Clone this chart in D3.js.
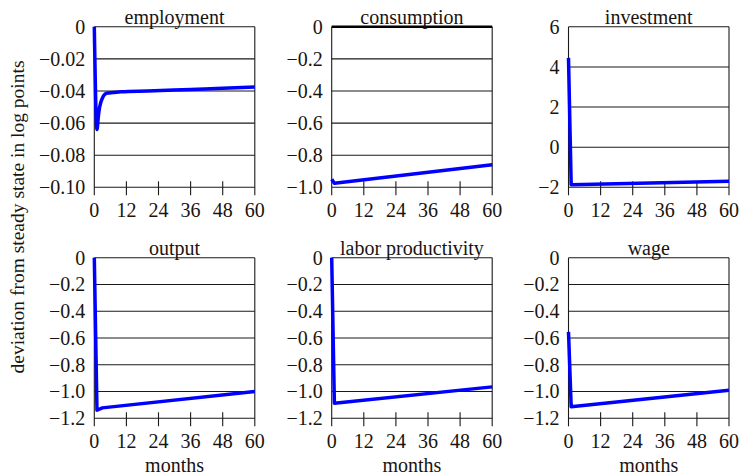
<!DOCTYPE html>
<html>
<head>
<meta charset="utf-8">
<script src="https://cdn.jsdelivr.net/npm/d3@7"></script>
<style>
  html, body { margin: 0; padding: 0; background: #fff; }
  svg { display: block; }
</style>
</head>
<body>
<svg id="chart" width="741" height="475"></svg>
<script>
// ---------------- DATA ----------------
const titles = ["employment", "consumption", "investment", "output", "labor productivity", "wage"];
const xTicks = [0, 12, 24, 36, 48, 60];
const xLabel = "months";
const yLabel = "deviation from steady state in log points";

const employmentMonths = [0, 1, 1.5, 2, 3, 4, 5, 7, 10, 20, 36, 48, 60];
const employmentValues = [0, -0.064, -0.056, -0.050, -0.0445, -0.042, -0.0413, -0.041, -0.0405, -0.0400, -0.0390, -0.0383, -0.0375];

const consumptionMonths = [0, 1, 60];
const consumptionValues = [-0.95, -0.975, -0.86];

const investmentMonths = [0, 1, 60];
const investmentValues = [4.45, -1.87, -1.70];

const outputMonths = [0, 1, 3, 60];
const outputValues = [0, -1.14, -1.122, -1.0];

const productivityMonths = [0, 1, 60];
const productivityValues = [0, -1.087, -0.965];

const wageMonths = [0, 1, 60];
const wageValues = [-0.554, -1.114, -0.99];

const employmentTicks = [0, -0.02, -0.04, -0.06, -0.08, -0.10];
const employmentTickLabels = ["0", "\u22120.02", "\u22120.04", "\u22120.06", "\u22120.08", "\u22120.10"];
const consumptionTicks = [0, -0.2, -0.4, -0.6, -0.8, -1.0];
const consumptionTickLabels = ["0", "\u22120.2", "\u22120.4", "\u22120.6", "\u22120.8", "\u22121.0"];
const investmentTicks = [6, 4, 2, 0, -2];
const investmentTickLabels = ["6", "4", "2", "0", "\u22122"];
const lowerTicks = [0, -0.2, -0.4, -0.6, -0.8, -1.0, -1.2];
const lowerTickLabels = ["0", "\u22120.2", "\u22120.4", "\u22120.6", "\u22120.8", "\u22121.0", "\u22121.2"];

// ---------------- LAYOUT ----------------
const colLeft = [94.3, 331.7, 568.5];
const rowTop = [26.8, 257.8];
const pw = 160.5, ph = 160.5;

const panels = [
  { title: titles[0], months: employmentMonths, values: employmentValues, ticks: employmentTicks, labels: employmentTickLabels, domain: [-0.10, 0], col: 0, row: 0, smooth: true },
  { title: titles[1], months: consumptionMonths, values: consumptionValues, ticks: consumptionTicks, labels: consumptionTickLabels, domain: [-1.0, 0], col: 1, row: 0, thickTop: true },
  { title: titles[2], months: investmentMonths, values: investmentValues, ticks: investmentTicks, labels: investmentTickLabels, domain: [-2, 6], col: 2, row: 0 },
  { title: titles[3], months: outputMonths, values: outputValues, ticks: lowerTicks, labels: lowerTickLabels, domain: [-1.2, 0], col: 0, row: 1 },
  { title: titles[4], months: productivityMonths, values: productivityValues, ticks: lowerTicks, labels: lowerTickLabels, domain: [-1.2, 0], col: 1, row: 1 },
  { title: titles[5], months: wageMonths, values: wageValues, ticks: lowerTicks, labels: lowerTickLabels, domain: [-1.2, 0], col: 2, row: 1 }
];

const FONT = "'Liberation Serif', 'DejaVu Serif', serif";
const svg = d3.select("#chart").attr("font-family", FONT);
const FS = 20;
const frameColor = "#1a1a1a";
const textColor = "#1a1410";

panels.forEach(p => {
  const x0 = colLeft[p.col], y0 = rowTop[p.row];
  const g = svg.append("g").attr("transform", `translate(${x0},${y0})`);
  const x = d3.scaleLinear().domain([0, 60]).range([0, pw]);
  const y = d3.scaleLinear().domain(p.domain).range([ph, 0]);

  // horizontal gridlines
  g.selectAll("line.grid").data(p.ticks).enter().append("line")
    .attr("x1", 0).attr("x2", pw)
    .attr("y1", d => y(d)).attr("y2", d => y(d))
    .attr("stroke", frameColor).attr("stroke-width", 1.1);

  if (p.thickTop) {
    g.append("line").attr("x1", 0).attr("x2", pw).attr("y1", y(0)).attr("y2", y(0))
      .attr("stroke", "#000").attr("stroke-width", 2.4);
  }

  // vertical frame lines (extend below as tick)
  [0, 60].forEach(v => {
    g.append("line").attr("x1", x(v)).attr("x2", x(v)).attr("y1", 0).attr("y2", ph + 8)
      .attr("stroke", frameColor).attr("stroke-width", 1.1);
  });
  // x ticks (crossing bottom)
  g.selectAll("line.xt").data(xTicks.slice(1, -1)).enter().append("line")
    .attr("x1", d => x(d)).attr("x2", d => x(d))
    .attr("y1", ph - 6).attr("y2", ph + 8)
    .attr("stroke", frameColor).attr("stroke-width", 1.1);

  // y tick labels
  g.selectAll("text.yl").data(p.ticks).enter().append("text")
    .attr("x", -9).attr("y", d => y(d))
    .attr("dy", "0.34em")
    .attr("text-anchor", "end")
    .attr("font-size", FS)
    .attr("fill", textColor)
    .text((d, i) => p.labels[i]);

  // x tick labels
  g.selectAll("text.xl").data(xTicks).enter().append("text")
    .attr("x", d => x(d)).attr("y", ph + 29.5)
    .attr("text-anchor", "middle")
    .attr("font-size", FS)
    .attr("fill", textColor)
    .text(d => d);

  // title
  g.append("text").attr("x", pw / 2).attr("y", -2.5)
    .attr("text-anchor", "middle").attr("font-size", FS)
    .attr("fill", textColor)
    .text(p.title);

  // x axis label on bottom row
  if (p.row === 1) {
    g.append("text").attr("x", pw / 2).attr("y", ph + 53.5)
      .attr("text-anchor", "middle").attr("font-size", FS)
      .attr("fill", textColor)
      .text(xLabel);
  }

  // data line
  const pts = p.months.map((m, i) => [m, p.values[i]]);
  g.append("path").datum(pts)
    .attr("fill", "none")
    .attr("stroke", "#0000ff")
    .attr("stroke-width", 3.5)
    .attr("stroke-linejoin", "round")
    .attr("d", d3.line()
      .curve(p.smooth ? d3.curveMonotoneX : d3.curveLinear)
      .x(d => x(d[0])).y(d => y(d[1])));
});

// y axis label
svg.append("text")
  .attr("transform", "translate(24,217) rotate(-90)")
  .attr("text-anchor", "middle")
  .attr("font-size", 19.5)
  .attr("fill", textColor)
  .text(yLabel);
</script>
</body>
</html>
